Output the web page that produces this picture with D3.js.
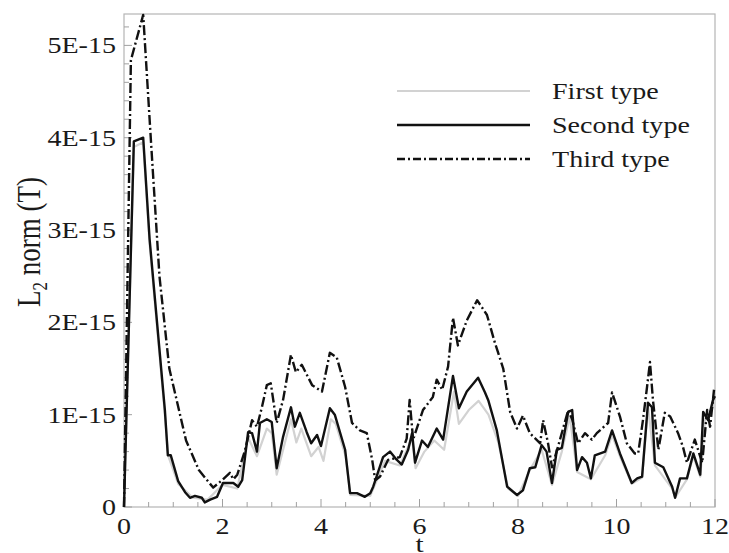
<!DOCTYPE html>
<html>
<head>
<meta charset="utf-8">
<script src="https://cdn.jsdelivr.net/npm/d3@7"></script>
<style>
  body { margin: 0; background: #fff; }
  svg { display: block; }
  text { font-family: "Liberation Serif", "DejaVu Serif", serif; fill: #1a1a1a; }
</style>
</head>
<body>
<div id="chart"></div>
<script>
// data, values in units of 1E-15
var tFirst = [0, 0.2, 0.39, 0.52, 0.83, 0.9, 1.1, 1.4, 1.7, 2.0, 2.3, 2.52, 2.7, 2.9, 3.0, 3.1, 3.39, 3.5, 3.6, 3.8, 3.95, 4.05, 4.2, 4.3, 4.5, 4.6, 5.0, 5.3, 5.6, 5.85, 5.92, 6.1, 6.3, 6.5, 6.7, 6.8, 7.0, 7.2, 7.4, 7.6, 7.8, 8.0, 8.24, 8.48, 8.69, 8.89, 9.05, 9.2, 9.48, 9.77, 9.91, 10.07, 10.31, 10.52, 10.64, 10.78, 11.13, 11.19, 11.43, 11.56, 11.7, 11.8, 12]
var vFirst = [0, 3.9, 3.95, 2.85, 1.0, 0.55, 0.25, 0.1, 0.08, 0.24, 0.2, 0.75, 0.55, 0.85, 0.8, 0.35, 0.95, 0.7, 0.85, 0.55, 0.65, 0.5, 0.95, 0.9, 0.55, 0.13, 0.12, 0.5, 0.45, 0.75, 0.42, 0.6, 0.72, 0.62, 1.25, 0.9, 1.05, 1.15, 1.0, 0.7, 0.2, 0.12, 0.4, 0.62, 0.24, 0.6, 0.98, 0.38, 0.3, 0.56, 0.78, 0.55, 0.25, 0.32, 1.08, 0.45, 0.2, 0.1, 0.3, 0.55, 0.33, 0.95, 1.12]

var tSecond = [0, 0.2, 0.39, 0.52, 0.83, 0.89, 0.95, 1.1, 1.24, 1.34, 1.44, 1.58, 1.64, 1.75, 1.89, 2.01, 2.22, 2.32, 2.4, 2.52, 2.6, 2.7, 2.76, 2.9, 3.0, 3.1, 3.23, 3.39, 3.47, 3.57, 3.71, 3.8, 3.92, 4.0, 4.18, 4.28, 4.49, 4.59, 4.73, 4.89, 5.0, 5.06, 5.26, 5.4, 5.54, 5.64, 5.77, 5.85, 5.91, 6.05, 6.17, 6.35, 6.48, 6.68, 6.8, 6.96, 7.19, 7.33, 7.4, 7.57, 7.78, 7.98, 8.1, 8.24, 8.35, 8.48, 8.58, 8.69, 8.79, 8.89, 9.02, 9.1, 9.2, 9.3, 9.4, 9.48, 9.56, 9.77, 9.91, 10.07, 10.31, 10.42, 10.52, 10.64, 10.72, 10.78, 10.95, 11.13, 11.19, 11.29, 11.43, 11.56, 11.7, 11.76, 11.86, 11.96, 12]
var vSecond = [0, 3.96, 4.0, 2.9, 1.05, 0.56, 0.56, 0.28, 0.16, 0.1, 0.12, 0.1, 0.05, 0.08, 0.11, 0.26, 0.26, 0.22, 0.29, 0.81, 0.8, 0.6, 0.91, 0.95, 0.92, 0.42, 0.76, 1.08, 0.87, 1.02, 0.81, 0.69, 0.78, 0.66, 1.07, 1.0, 0.62, 0.15, 0.15, 0.11, 0.15, 0.22, 0.54, 0.6, 0.51, 0.46, 0.62, 0.8, 0.48, 0.72, 0.65, 0.85, 0.73, 1.42, 1.07, 1.25, 1.4, 1.24, 1.15, 0.83, 0.22, 0.13, 0.18, 0.42, 0.43, 0.67, 0.6, 0.26, 0.62, 0.64, 1.03, 1.05, 0.4, 0.54, 0.48, 0.31, 0.56, 0.6, 0.83, 0.58, 0.26, 0.31, 0.33, 1.13, 1.08, 0.48, 0.43, 0.22, 0.1, 0.31, 0.31, 0.58, 0.35, 1.03, 0.94, 1.16, 1.2]

var tThird = [0, 0.14, 0.39, 0.55, 0.72, 0.92, 1.26, 1.52, 1.81, 1.99, 2.15, 2.22, 2.3, 2.45, 2.6, 2.7, 2.8, 2.9, 2.98, 3.1, 3.23, 3.39, 3.49, 3.61, 3.82, 4.02, 4.18, 4.32, 4.49, 4.63, 4.79, 4.93, 5.04, 5.1, 5.2, 5.36, 5.6, 5.74, 5.8, 5.87, 6.07, 6.27, 6.35, 6.46, 6.58, 6.68, 6.78, 6.96, 7.17, 7.37, 7.53, 7.7, 7.84, 7.98, 8.1, 8.24, 8.45, 8.51, 8.61, 8.69, 8.81, 9.02, 9.1, 9.22, 9.36, 9.5, 9.6, 9.83, 9.91, 10.07, 10.21, 10.37, 10.44, 10.54, 10.62, 10.68, 10.74, 10.85, 10.98, 11.09, 11.25, 11.35, 11.43, 11.59, 11.74, 11.84, 11.9, 11.98]
var vThird = [0, 4.84, 5.33, 3.94, 2.5, 1.5, 0.72, 0.4, 0.21, 0.29, 0.37, 0.3, 0.35, 0.6, 0.94, 0.87, 1.08, 1.32, 1.34, 0.91, 1.16, 1.65, 1.46, 1.54, 1.32, 1.25, 1.67, 1.62, 1.3, 0.91, 0.83, 0.8, 0.51, 0.29, 0.33, 0.51, 0.54, 0.74, 1.16, 0.73, 1.05, 1.19, 1.38, 1.27, 1.52, 2.05, 1.75, 2.02, 2.24, 2.08, 1.78, 1.5, 1.03, 0.85, 0.99, 0.8, 0.69, 0.94, 0.69, 0.43, 0.65, 1.05, 0.95, 0.69, 0.8, 0.73, 0.8, 0.91, 1.24, 0.98, 0.69, 0.58, 0.58, 0.95, 1.3, 1.57, 1.16, 0.62, 1.02, 0.98, 0.8, 0.65, 0.48, 0.73, 0.48, 1.05, 0.87, 1.27]

var xTicks = [0, 2, 4, 6, 8, 10, 12]
var yTicks = [0, 1, 2, 3, 4, 5]
var yTickLabels = ["0", "1E-15", "2E-15", "3E-15", "4E-15", "5E-15"]
var seriesNames = ["First type", "Second type", "Third type"]

const width = 729
const height = 553
const margin = { top: 14, right: 14, bottom: 46, left: 124 }
const stretch = 1.22   // text in the picture is a bit wider than normal

const svg = d3.select('#chart').append('svg')
    .attr('width', width)
    .attr('height', height)

const x = d3.scaleLinear().domain([0, 12]).range([margin.left, width - margin.right])
const y = d3.scaleLinear().domain([0, 5.34]).range([height - margin.bottom, margin.top])

// frame
svg.append('rect')
    .attr('x', x(0)).attr('y', y(5.34))
    .attr('width', x(12) - x(0)).attr('height', y(0) - y(5.34))
    .attr('fill', 'none').attr('stroke', '#b5b5b5').attr('stroke-width', 1.2)

// ticks pointing inward
const ticks = svg.append('g').attr('stroke', '#a0a0a0').attr('stroke-width', 1)
d3.range(0, 12.01, 0.5).forEach(t => {
    const major = Math.abs(t - Math.round(t / 2) * 2) < 1e-6
    ticks.append('line')
        .attr('x1', x(t)).attr('x2', x(t))
        .attr('y1', y(0)).attr('y2', y(0) - (major ? 8 : 5))
})
d3.range(0, 5.34, 0.2).forEach(v => {
    const major = Math.abs(v - Math.round(v)) < 1e-6
    ticks.append('line')
        .attr('x1', x(0)).attr('x2', x(0) + (major ? 8 : 5))
        .attr('y1', y(v)).attr('y2', y(v))
})

function label(txt, px, py, anchor, size) {
    return svg.append('text')
        .attr('transform', `translate(${px},${py}) scale(${stretch},1)`)
        .attr('text-anchor', anchor)
        .attr('font-size', size)
        .text(txt)
}

xTicks.forEach(t => label(t, x(t), y(0) + 27, 'middle', 23))
yTicks.forEach((v, i) => label(yTickLabels[i], x(0) - 8, y(v) + 8, 'end', 23))

// axis titles
svg.append('text')
    .attr('transform', `translate(40,242) rotate(-90) scale(1,${stretch})`)
    .attr('text-anchor', 'middle')
    .attr('font-size', 27)
    .html('L<tspan font-size="17" dy="6">2</tspan><tspan dy="-6"> norm (T)</tspan>')
label('t', x(6), 552, 'middle', 24)

// curves
const line = d3.line().x(d => x(d[0])).y(d => y(d[1]))
const pairs = (ts, vs) => ts.map((t, i) => [t, vs[i]])

const styles = [
    { data: pairs(tFirst, vFirst), stroke: '#d2d2d2', width: 2.2, dash: null },
    { data: pairs(tSecond, vSecond), stroke: '#111', width: 2.4, dash: null },
    { data: pairs(tThird, vThird), stroke: '#111', width: 2.4, dash: '10,3,2,3' }
]

const plot = svg.append('g')
styles.forEach(s => {
    plot.append('path')
        .attr('d', line(s.data))
        .attr('fill', 'none')
        .attr('stroke', s.stroke)
        .attr('stroke-width', s.width)
        .attr('stroke-linejoin', 'round')
        .attr('stroke-dasharray', s.dash)
})

// legend
seriesNames.forEach((name, i) => {
    const ly = 91 + i * 34
    svg.append('line')
        .attr('x1', 397).attr('x2', 530)
        .attr('y1', ly).attr('y2', ly)
        .attr('stroke', styles[i].stroke)
        .attr('stroke-width', styles[i].width)
        .attr('stroke-dasharray', i == 2 ? '8,3,2,3' : null)
    label(name, 552, ly + 8, 'start', 23)
})
</script>
</body>
</html>
